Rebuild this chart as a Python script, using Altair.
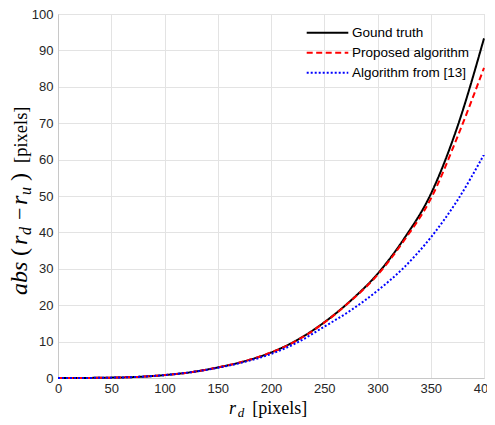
import altair as alt
import pandas as pd

# ---- data ----
x_vals = [0, 25, 50, 75, 100, 125, 150, 175, 200, 225, 250, 275, 300, 325, 350, 375, 400]
ground_truth = [0.0, 0.02, 0.1, 0.3, 0.8, 1.6, 2.9, 4.6, 7.0, 10.5, 15.3, 21.3, 28.6, 38.3, 50.5, 69.0, 93.3]
proposed = [0.0, 0.02, 0.1, 0.3, 0.8, 1.6, 2.9, 4.6, 7.0, 10.4, 15.2, 21.2, 28.3, 37.8, 49.2, 66.2, 85.2]
alg13 = [0.0, 0.02, 0.1, 0.3, 0.8, 1.6, 2.8, 4.4, 6.6, 9.8, 14.1, 18.6, 24.0, 30.4, 38.6, 48.8, 61.4]

series_names = ["Gound truth", "Proposed algorithm", "Algorithm from [13]"]
series_values = [ground_truth, proposed, alg13]
series_colors = ["#000000", "#ff0000", "#0000ff"]
series_dash = [[1, 0], [6, 3.5], [2, 2]]

x_ticks = [0, 50, 100, 150, 200, 250, 300, 350, 400]
y_ticks = [0, 10, 20, 30, 40, 50, 60, 70, 80, 90, 100]

SANS = "Liberation Sans"
SERIF = "Liberation Serif"

W, H = 426, 364
PAD_L, PAD_T = 50, 6

rows = []
for name, vals in zip(series_names, series_values):
    for xv, yv in zip(x_vals, vals):
        rows.append({"series": name, "x": xv, "y": yv})
df = pd.DataFrame(rows)

x_enc = alt.X("x:Q", scale=alt.Scale(domain=[0, 400], nice=False, zero=False),
              axis=alt.Axis(values=x_ticks, title=None, labelFont=SANS, labelFontSize=13,
                            labelColor="#262626", labelPadding=4, ticks=False,
                            grid=True, gridColor="#e3e3e3", domainColor="#c8c8c8",
                            labelFlush=False))
y_enc = alt.Y("y:Q", scale=alt.Scale(domain=[0, 100], nice=False, zero=False),
              axis=alt.Axis(values=y_ticks, title=None, labelFont=SANS, labelFontSize=13,
                            labelColor="#262626", labelPadding=5, ticks=False,
                            grid=True, gridColor="#e3e3e3", domainColor="#c8c8c8",
                            labelFlush=False))

layers = []
for name, col, dash in zip(series_names, series_colors, series_dash):
    layers.append(
        alt.Chart(df).transform_filter(alt.datum.series == name)
        .mark_line(color=col, strokeDash=dash, strokeWidth=2, interpolate="monotone")
        .encode(x=x_enc, y=y_enc)
    )

one = pd.DataFrame({"a": [0]})

# page -> plot coordinate helpers
def px(v):
    return v - 8 - PAD_L

def py(v):
    return v - 8 - PAD_T

# legend (manual)
for i, (name, col, dash) in enumerate(zip(series_names, series_colors, series_dash)):
    ly = py(32.7 + 20 * i)
    layers.append(alt.Chart(one).mark_rule(color=col, strokeDash=dash, strokeWidth=2)
                  .encode(x=alt.value(px(306.7)), x2=alt.value(px(348.3)), y=alt.value(ly)))
    layers.append(alt.Chart(one).mark_text(text=name, font=SANS, fontSize=13.5, color="#000000",
                                           align="left", baseline="middle")
                  .encode(x=alt.value(px(352)), y=alt.value(ly)))

# axis titles built from pieces (LaTeX style)
x_title = [
    ("r", "italic", 18, 229, 414),
    ("d", "italic", 13, 237.7, 416.5),
    ("[pixels]", "normal", 18, 252.3, 414),
]
for txt, style, size, X, Y in x_title:
    layers.append(alt.Chart(one).mark_text(text=txt, font=SERIF, fontStyle=style, fontSize=size,
                                           color="#000000", align="left", baseline="alphabetic")
                  .encode(x=alt.value(px(X)), y=alt.value(py(Y))))

y_title = [
    ("abs", "italic", 24, 27, 295),
    ("(", "normal", 24, 27, 256),
    ("r", "italic", 24, 27, 245),
    ("d", "italic", 16, 31, 235),
    ("\u2212", "normal", 22, 27, 220),
    ("r", "italic", 24, 27, 205),
    ("u", "italic", 16, 31, 195),
    (")", "normal", 24, 27, 181),
    ("[pixels]", "normal", 18.5, 27, 163),
]
for txt, style, size, X, Y in y_title:
    layers.append(alt.Chart(one).mark_text(text=txt, font=SERIF, fontStyle=style, fontSize=size,
                                           color="#000000", align="left", baseline="alphabetic",
                                           angle=270)
                  .encode(x=alt.value(px(X)), y=alt.value(py(Y))))

chart = alt.layer(*layers).properties(
    width=W, height=H,
    autosize=alt.AutoSizeParams(type="none"),
    padding={"left": PAD_L, "top": PAD_T, "right": 3, "bottom": 41},
).configure_view(stroke="#d9d9d9").configure(background="white")

chart.save("out.html", embed_options={"renderer": "svg", "actions": False})
